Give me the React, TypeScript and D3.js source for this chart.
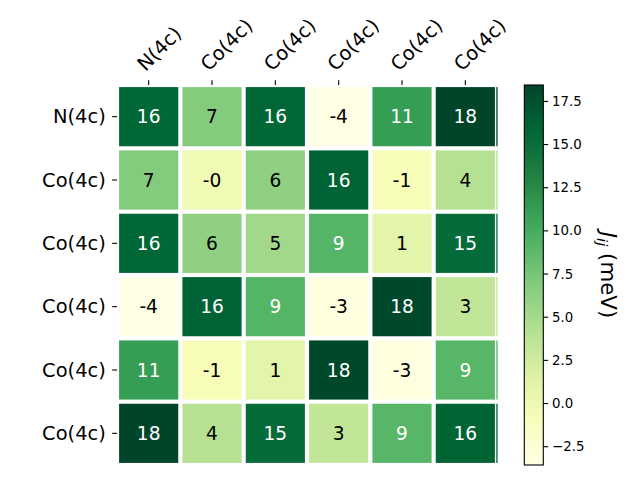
import React from "react";
import * as d3 from "d3";

const rowLabels = ["N(4c)", "Co(4c)", "Co(4c)", "Co(4c)", "Co(4c)", "Co(4c)"];
const colLabels = ["N(4c)", "Co(4c)", "Co(4c)", "Co(4c)", "Co(4c)", "Co(4c)"];
const row0 = [15.8, 6.8, 15.8, -3.56, 11.2, 18.45];
const row1 = [6.8, -0.3, 6.2, 16.1, -0.8, 4.1];
const row2 = [15.8, 6.2, 5.3, 9.2, 1.0, 15.3];
const row3 = [-3.56, 16.1, 9.2, -3.2, 18.2, 3.4];
const row4 = [11.2, -0.8, 1.0, 18.2, -3.2, 9.1];
const row5 = [18.45, 4.1, 15.3, 3.4, 9.1, 16.0];
const values = [row0, row1, row2, row3, row4, row5];
const cbarTicks = [-2.5, 0, 2.5, 5, 7.5, 10, 12.5, 15, 17.5];
const vmin = -3.56;
const vmax = 18.45;
const ylgn = ["#ffffe5", "#f7fcb9", "#d9f0a3", "#addd8e", "#78c679", "#41ab5d", "#238443", "#006837", "#004529"];

const FONT = "DejaVu Sans, sans-serif";

export default function App() {
  const W = 640, H = 480;
  const x0 = 117, x1 = 497, y0 = 85, y1 = 465;
  const n = 6;
  const xs = d3.scaleLinear().domain([-0.5, n - 0.5]).range([x0, x1]);
  const ys = d3.scaleLinear().domain([-0.5, n - 0.5]).range([y0, y1]);
  const norm = d3.scaleLinear().domain([vmin, vmax]).range([0, 1]).clamp(true);
  const cmap = d3
    .scaleLinear<string>()
    .domain(ylgn.map((_, i) => i / (ylgn.length - 1)))
    .range(ylgn)
    .interpolate(d3.interpolateRgb);
  const color = (v: number) => cmap(norm(v));
  const gw = 4.17;
  const cell = xs(1) - xs(0);

  const cbX0 = 524.3, cbX1 = 543.3;
  const cbScale = d3.scaleLinear().domain([vmin, vmax]).range([y1, y0]);
  const fmt = d3.format(".1f");
  const gradStops = d3.range(0, 1.0001, 0.02);

  const labelSize = 19.44;
  const annSize = 18.6;
  const tickLen = 4.86;
  const pad = 4.86;
  const cbLabelX = 601;
  const cbLabelY = (y0 + y1) / 2;

  return (
    <svg width={W} height={H} style={{ position: "absolute", left: 0, top: 0, background: "#fff" }}>
      <defs>
        <linearGradient id="cbgrad" x1="0" y1="1" x2="0" y2="0">
          {gradStops.map((t, i) => (
            <stop key={i} offset={t} stopColor={cmap(t)} />
          ))}
        </linearGradient>
        <clipPath id="axclip">
          <rect x={x0} y={y0} width={x1 - x0} height={y1 - y0} />
        </clipPath>
      </defs>
      {/* cells */}
      <g clipPath="url(#axclip)">
        {values.map((row, i) =>
          row.map((v, j) => (
            <rect key={`c${i}-${j}`} x={xs(j - 0.5)} y={ys(i - 0.5)} width={cell} height={cell} fill={color(v)} />
          ))
        )}
        {d3.range(n + 1).map((k) => (
          <rect key={`gv${k}`} x={xs(k - 0.5) - gw / 2} y={y0} width={gw} height={y1 - y0} fill="#fff" />
        ))}
        {d3.range(n + 1).map((k) => (
          <rect key={`gh${k}`} x={x0} y={ys(k - 0.5) - gw / 2} width={x1 - x0} height={gw} fill="#fff" />
        ))}
      </g>
      {/* right sliver */}
      {values.map((row, i) => (
        <rect key={`s${i}`} x={496.3} y={ys(i - 0.5) + gw / 2} width={1.3} height={cell - gw} fill={color(row[n - 1])} />
      ))}
      {/* annotations */}
      {values.map((row, i) =>
        row.map((v, j) => (
          <text
            key={`t${i}-${j}`}
            x={xs(j)}
            y={ys(i)}
            textAnchor="middle"
            dominantBaseline="central"
            fontFamily={FONT}
            fontSize={annSize}
            fill={norm(v) > 0.5 ? "#fff" : "#000"}
          >
            {v.toFixed(0)}
          </text>
        ))
      )}
      {/* x ticks top */}
      {colLabels.map((lab, j) => {
        const tx = xs(j);
        const d = 0.236 * labelSize;
        const sx = tx - d * 0.707;
        const sy = y0 - tickLen - pad - d * 0.707;
        return (
          <g key={`xt${j}`}>
            <line x1={tx} x2={tx} y1={y0} y2={y0 - tickLen} stroke="#000" strokeWidth={1.1} />
            <text x={sx} y={sy} transform={`rotate(-45 ${sx} ${sy})`} fontFamily={FONT} fontSize={labelSize} fill="#000">
              {lab}
            </text>
          </g>
        );
      })}
      {/* y ticks left */}
      {rowLabels.map((lab, i) => {
        const ty = ys(i);
        return (
          <g key={`yt${i}`}>
            <line x1={x0} x2={x0 - tickLen} y1={ty} y2={ty} stroke="#000" strokeWidth={1.1} />
            <text
              x={x0 - tickLen - pad - 1.5}
              y={ty}
              textAnchor="end"
              dominantBaseline="central"
              fontFamily={FONT}
              fontSize={labelSize}
              fill="#000"
            >
              {lab}
            </text>
          </g>
        );
      })}
      {/* colorbar */}
      <rect x={cbX0} y={y0} width={cbX1 - cbX0} height={y1 - y0} fill="url(#cbgrad)" />
      <rect x={cbX0} y={y0} width={cbX1 - cbX0} height={y1 - y0} fill="none" stroke="#000" strokeWidth={1.1} />
      {cbarTicks.map((t) => (
        <g key={`cb${t}`}>
          <line x1={cbX1} x2={cbX1 + tickLen} y1={cbScale(t)} y2={cbScale(t)} stroke="#000" strokeWidth={1.1} />
          <text
            x={cbX1 + tickLen + pad - 1}
            y={cbScale(t)}
            dominantBaseline="central"
            fontFamily={FONT}
            fontSize={13.33}
            fill="#000"
          >
            {fmt(t)}
          </text>
        </g>
      ))}
      <text
        x={cbLabelX}
        y={cbLabelY}
        transform={`rotate(90 ${cbLabelX} ${cbLabelY})`}
        textAnchor="middle"
        fontFamily={FONT}
        fontSize={21.33}
        fill="#000"
      >
        <tspan fontStyle="italic">J</tspan>
        <tspan fontStyle="italic" fontSize={14.9} dy={4}>ij</tspan>
        <tspan dy={-4}> (meV)</tspan>
      </text>
    </svg>
  );
}
